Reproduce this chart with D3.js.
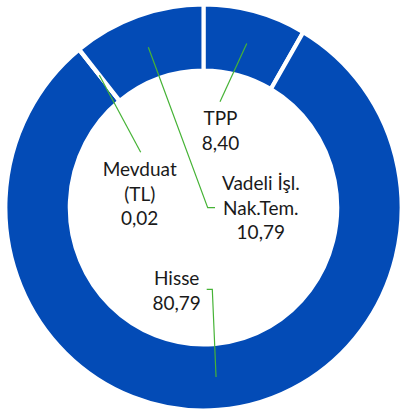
<!DOCTYPE html>
<html>
<head>
<meta charset="utf-8">
<script src="https://cdn.jsdelivr.net/npm/d3@7"></script>
<style>
  html, body { margin: 0; padding: 0; background: #fff; }
  svg { display: block; }
</style>
</head>
<body>
<svg id="chart" width="403" height="414"></svg>
<script>
// Data (clockwise from 12 o'clock)
const categories = ["TPP", "Hisse", "Mevduat (TL)", "Vadeli İşl. Nak.Tem."];
const labelLines = [["TPP"], ["Hisse"], ["Mevduat", "(TL)"], ["Vadeli İşl.", "Nak.Tem."]];
const values = [8.40, 80.79, 0.02, 10.79];

// Layout
const W = 403, H = 414;
const cx = 203.5, cy = 207.5;
const sx = 0.976;             // slight horizontal squash of the original picture
const rOuter = 203, rInner = 137;
const blue = "#034BB6";
const green = "#46B336";
const lineH = 24.5;
// label anchor (centre x, first baseline) and leader path end points, per category
const labelLayout = [
  { x: 220.5, y: 125, pts: [[220, 101.7]] },
  { x: 176.7, y: 285, pts: [[212.3, 289.3], [206.7, 289.3]] },
  { x: 139.7, y: 176, pts: [[140.7, 152.3]] },
  { x: 260.8, y: 190, pts: [[207.7, 207.7], [215, 207.7]] }
];

const trLocale = d3.formatLocale({ decimal: ",", thousands: ".", grouping: [3], currency: ["", " ₺"] });
const fmt = trLocale.format(".2f");

const svg = d3.select("#chart");
const data = categories.map((c, i) => ({ name: c, value: values[i], lines: labelLines[i], layout: labelLayout[i] }));

const pie = d3.pie().value(d => d.value).sort(null).startAngle(0).endAngle(2 * Math.PI);
const arcs = pie(data);
const arc = d3.arc().innerRadius(rInner).outerRadius(rOuter);

const g = svg.append("g").attr("transform", `translate(${cx},${cy}) scale(${sx},1)`);
g.selectAll("path.slice")
  .data(arcs)
  .join("path")
  .attr("class", "slice")
  .attr("d", arc)
  .attr("fill", blue)
  .attr("stroke", "#ffffff")
  .attr("stroke-width", 4.2)
  .attr("stroke-linejoin", "miter");

// leader lines from slice centroid to label
const line = d3.line();
svg.selectAll("path.leader")
  .data(arcs)
  .join("path")
  .attr("class", "leader")
  .attr("d", d => {
    const c = arc.centroid(d);
    const start = [cx + c[0] * sx, cy + c[1]];
    return line([start, ...d.data.layout.pts]);
  })
  .attr("fill", "none")
  .attr("stroke", green)
  .attr("stroke-width", 1.2);

// labels
const labels = svg.selectAll("text.lbl")
  .data(arcs)
  .join("text")
  .attr("class", "lbl")
  .attr("text-anchor", "middle")
  .attr("font-family", "Lato, 'Open Sans', sans-serif")
  .attr("font-size", 19)
  .attr("fill", "#1a1a1a");

labels.each(function(d) {
  const t = d3.select(this);
  const L = d.data.layout;
  const all = [...d.data.lines, fmt(d.data.value)];
  all.forEach((s, i) => {
    t.append("tspan").attr("x", L.x).attr("y", L.y + i * lineH).text(s);
  });
});
</script>
</body>
</html>
